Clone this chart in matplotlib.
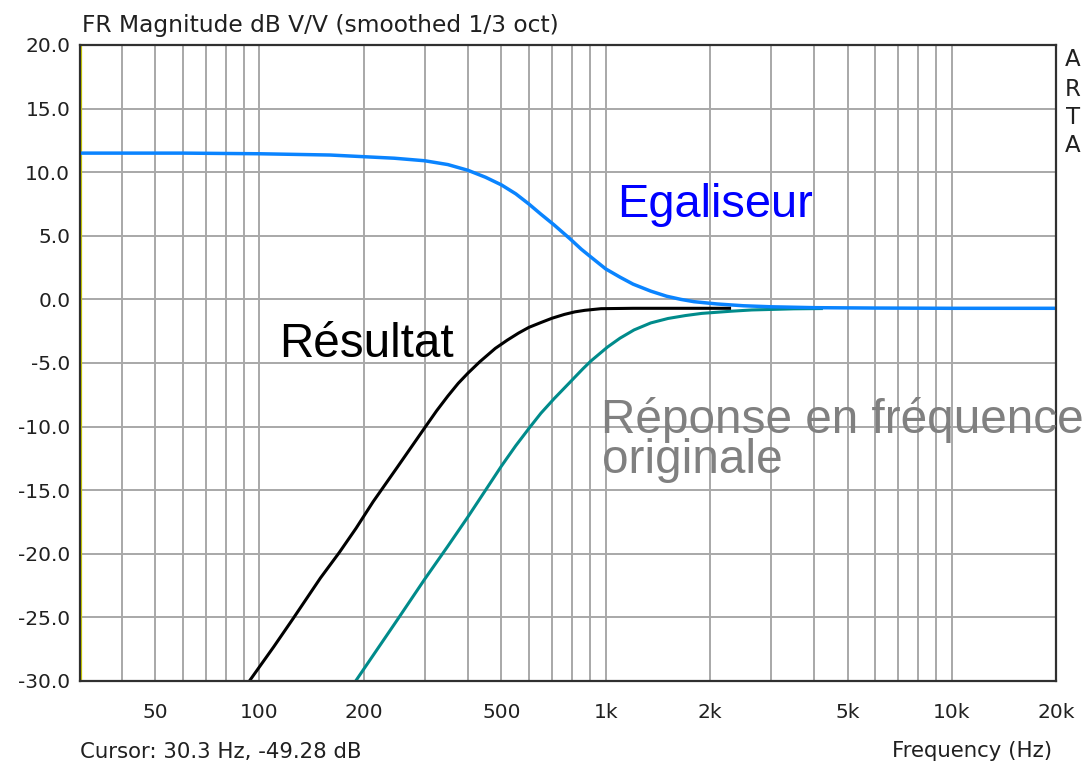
import matplotlib
matplotlib.use("Agg")
import matplotlib.pyplot as plt
from matplotlib.ticker import FixedLocator, NullFormatter, NullLocator

# =============================================================================
# Data
# =============================================================================

# Egaliseur (equalizer)
eq_freq = [30.3, 60, 100, 160, 245, 300, 350, 400, 450, 500, 550, 600, 650,
           710, 790, 850, 900, 1000, 1100, 1200, 1350, 1500, 1650, 1800,
           2100, 2500, 3000, 4000, 6000, 10000, 20000]
eq_db = [11.5, 11.5, 11.45, 11.35, 11.1, 10.9, 10.6, 10.15, 9.6, 9.0, 8.3,
         7.5, 6.7, 5.85, 4.75, 3.95, 3.4, 2.4, 1.75, 1.2, 0.65, 0.25, 0.0,
         -0.18, -0.36, -0.5, -0.58, -0.65, -0.68, -0.7, -0.7]

# Résultat
res_freq = [93.5, 110, 125, 150, 170, 190, 213, 250, 300, 325, 350, 375, 400,
            433, 480, 520, 560, 600, 650, 700, 760, 815, 870, 970, 1200, 2280]
res_db = [-30.0, -27.3, -25.1, -21.9, -19.9, -18.0, -15.9, -13.2, -10.1,
          -8.75, -7.6, -6.6, -5.8, -4.9, -3.85, -3.2, -2.65, -2.2, -1.82,
          -1.48, -1.18, -0.98, -0.86, -0.73, -0.7, -0.7]

# Réponse en fréquence originale
orig_freq = [189.6, 250, 300, 349, 400, 446, 500, 550, 602, 650, 710, 780,
             860, 906, 1012, 1100, 1208, 1350, 1514, 1700, 1895, 2300, 2643,
             3500, 4200]
orig_db = [-30.0, -25.2, -22.0, -19.45, -17.1, -15.15, -13.1, -11.5, -10.1,
           -8.95, -7.8, -6.65, -5.45, -4.85, -3.75, -3.05, -2.4, -1.85, -1.5,
           -1.27, -1.1, -0.93, -0.83, -0.74, -0.72]

cursor_freq = 30.6

x_ticks = [50, 100, 200, 500, 1000, 2000, 5000, 10000, 20000]
x_tick_labels = ["50", "100", "200", "500", "1k", "2k", "5k", "10k", "20k"]
x_grid = ([40, 50, 60, 70, 80, 90] + [100 * i for i in range(1, 10)]
          + [1000 * i for i in range(1, 10)] + [10000])
y_ticks = [20, 15, 10, 5, 0, -5, -10, -15, -20, -25, -30]
y_tick_labels = ["%.1f" % v for v in y_ticks]

# =============================================================================
# Figure
# =============================================================================

W, H = 1087, 762
fig = plt.figure(figsize=(W / 100, H / 100), dpi=100)
fig.patch.set_facecolor("white")

left, right, top, bottom = 80, 1056, 45, 681
ax = fig.add_axes([left / W, 1 - bottom / H, (right - left) / W, (bottom - top) / H])

ax.set_xscale("log")
ax.set_xlim(30.3, 20000)
ax.set_ylim(-30, 20)

# grid
for f in x_grid:
    ax.axvline(f, color="#a8a8a8", lw=1.4, zorder=1)
for v in y_ticks:
    ax.axhline(v, color="#a8a8a8", lw=1.4, zorder=1)

# cursor line
ax.axvline(cursor_freq, color="#d0d000", lw=1.6, zorder=2)

# curves
ax.plot(orig_freq, orig_db, color="#008b8b", lw=2.2, zorder=3)
ax.plot(eq_freq, eq_db, color="#0a84ff", lw=2.5, zorder=4)
ax.plot(res_freq, res_db, color="black", lw=2.2, zorder=5)

# ticks
ax.xaxis.set_major_locator(FixedLocator(x_ticks))
ax.xaxis.set_minor_locator(NullLocator())
ax.xaxis.set_minor_formatter(NullFormatter())
ax.set_xticklabels(x_tick_labels)
ax.set_yticks(y_ticks)
ax.set_yticklabels(y_tick_labels)
ax.tick_params(axis="both", length=0, labelsize=14.5, colors="#202020")
ax.tick_params(axis="x", pad=16)
ax.tick_params(axis="y", pad=7)

for s in ax.spines.values():
    s.set_color("#303030")
    s.set_linewidth(1.6)
    s.set_zorder(6)

# =============================================================================
# Texts
# =============================================================================

def fx(px):
    return px / W


def fy(py):
    return 1 - py / H


fig.text(fx(82), fy(32), "FR Magnitude dB V/V (smoothed 1/3 oct)",
         fontsize=16.8, color="#202020", va="baseline", ha="left")
fig.text(fx(80), fy(758), "Cursor: 30.3 Hz, -49.28 dB",
         fontsize=15.3, color="#202020", va="baseline", ha="left")
fig.text(fx(1052), fy(757), "Frequency (Hz)",
         fontsize=15.3, color="#202020", va="baseline", ha="right")

for letter, py in zip("ARTA", [60, 89, 117, 145]):
    fig.text(fx(1073), fy(py), letter, fontsize=16.5, color="#202020",
             ha="center", va="center")

big = dict(family="Liberation Sans", va="baseline", ha="left")
fig.text(fx(617), fy(217), "Egaliseur", color="#0000ff", fontsize=33.8, **big)
fig.text(fx(279), fy(357), "Résultat", color="black", fontsize=34.3, **big)
fig.text(fx(601), fy(433), "Réponse en fréquence", color="#808080",
         fontsize=34.4, **big)
fig.text(fx(602), fy(473), "originale", color="#808080", fontsize=34.4, **big)

fig.savefig("out.png", dpi=100)
